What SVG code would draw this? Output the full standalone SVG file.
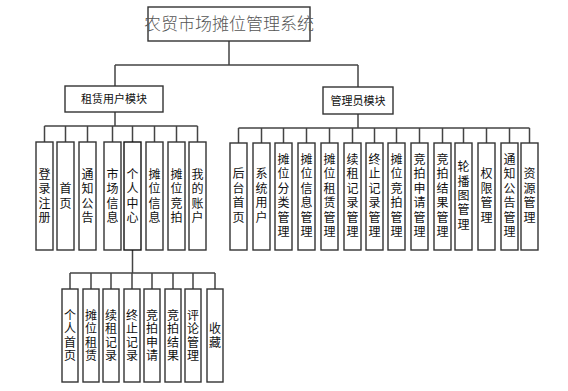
<svg xmlns="http://www.w3.org/2000/svg" width="568" height="391" viewBox="0 0 568 391">
<style>
.box{fill:#fff;stroke:#333;stroke-width:1.4}
.ln{stroke:#444;stroke-width:1.5;fill:none}
.t{font-family:"Noto Sans CJK SC","Noto Sans",sans-serif;font-size:12px;fill:#111;text-anchor:middle;writing-mode:vertical-rl;letter-spacing:2.4px}
.b{letter-spacing:1.3px}
.m{font-family:"Noto Sans CJK SC","Noto Sans",sans-serif;font-size:11px;fill:#111;text-anchor:middle}
.title{font-family:"Noto Sans CJK SC","Noto Sans",sans-serif;font-size:17px;fill:#555;text-anchor:middle;font-weight:300}
</style>
<rect width="568" height="391" fill="#fff"/>
<g id="connectors">
<path class="ln" d="M229 41V65M115 65H358M115 65V86M358 65V87"/>
<path class="ln" d="M115 112V126M44.5 126H197.5M44.5 126V142M65.5 126V142M87.5 126V142M112.5 126V142M132.5 126V142M154.5 126V142M176.5 126V142M197.5 126V142"/>
<path class="ln" d="M358 114V128M238.5 128H529.5M238.5 128V143M261.5 128V143M283.5 128V143M306.5 128V143M329.5 128V143M352.5 128V143M374.5 128V143M396.5 128V143M419.5 128V143M442.5 128V143M463.5 128V143M486.5 128V143M509.5 128V143M529.5 128V143"/>
<path class="ln" d="M132.5 250V273M70 273H215M70 273V289M91 273V289M111 273V289M132 273V289M152 273V289M173 273V289M193 273V289M215 273V289"/>
</g>
<g id="root"><rect class="box" x="148" y="7" width="162" height="34"/><text class="title" x="229" y="30">农贸市场摊位管理系统</text></g>
<g id="m-user"><rect class="box" x="65" y="86" width="98" height="26"/><text class="m" x="114" y="103">租赁用户模块</text></g>
<g id="m-admin"><rect class="box" x="323" y="87" width="70" height="27"/><text class="m" x="358" y="104.5">管理员模块</text></g>

<g id="u1"><rect class="box" x="36" y="142" width="17" height="108"/><text class="t" x="44.5" y="197.2">登录注册</text></g>
<g id="u2"><rect class="box" x="57" y="142" width="17" height="108"/><text class="t" x="65.5" y="197.2">首页</text></g>
<g id="u3"><rect class="box" x="79" y="142" width="17" height="108"/><text class="t" x="87.5" y="197.2">通知公告</text></g>
<g id="u4"><rect class="box" x="104" y="142" width="17" height="108"/><text class="t" x="112.5" y="197.2">市场信息</text></g>
<g id="u5"><rect class="box" x="124" y="142" width="17" height="108" style="stroke:#111"/><text class="t" x="132.5" y="197.2">个人中心</text></g>
<g id="u6"><rect class="box" x="146" y="142" width="17" height="108"/><text class="t" x="154.5" y="197.2">摊位信息</text></g>
<g id="u7"><rect class="box" x="168" y="142" width="17" height="108"/><text class="t" x="176.5" y="197.2">摊位竞拍</text></g>
<g id="u8"><rect class="box" x="189" y="142" width="17" height="108"/><text class="t" x="197.5" y="197.2">我的账户</text></g>

<g id="a1"><rect class="box" x="230" y="143" width="17" height="107"/><text class="t" x="238.5" y="196.7">后台首页</text></g>
<g id="a2"><rect class="box" x="253" y="143" width="17" height="107"/><text class="t" x="261.5" y="196.7">系统用户</text></g>
<g id="a3"><rect class="box" x="275" y="143" width="17" height="107"/><text class="t" x="283.5" y="196.7">摊位分类管理</text></g>
<g id="a4"><rect class="box" x="298" y="143" width="17" height="107"/><text class="t" x="306.5" y="196.7">摊位信息管理</text></g>
<g id="a5"><rect class="box" x="321" y="143" width="17" height="107"/><text class="t" x="329.5" y="196.7">摊位租赁管理</text></g>
<g id="a6"><rect class="box" x="344" y="143" width="17" height="107"/><text class="t" x="352.5" y="196.7">续租记录管理</text></g>
<g id="a7"><rect class="box" x="366" y="143" width="17" height="107"/><text class="t" x="374.5" y="196.7">终止记录管理</text></g>
<g id="a8"><rect class="box" x="388" y="143" width="17" height="107"/><text class="t" x="396.5" y="196.7">摊位竞拍管理</text></g>
<g id="a9"><rect class="box" x="411" y="143" width="17" height="107"/><text class="t" x="419.5" y="196.7">竞拍申请管理</text></g>
<g id="a10"><rect class="box" x="434" y="143" width="17" height="107"/><text class="t" x="442.5" y="196.7">竞拍结果管理</text></g>
<g id="a11"><rect class="box" x="455" y="143" width="17" height="107"/><text class="t" x="463.5" y="196.7">轮播图管理</text></g>
<g id="a12"><rect class="box" x="478" y="143" width="17" height="107"/><text class="t" x="486.5" y="196.7">权限管理</text></g>
<g id="a13"><rect class="box" x="501" y="143" width="17" height="107"/><text class="t" x="509.5" y="196.7">通知公告管理</text></g>
<g id="a14"><rect class="box" x="521" y="143" width="17" height="107"/><text class="t" x="529.5" y="196.7">资源管理</text></g>

<g id="p1"><rect class="box" x="62" y="289" width="16" height="93"/><text class="t b" x="70" y="336.2">个人首页</text></g>
<g id="p2"><rect class="box" x="83" y="289" width="16" height="93"/><text class="t b" x="91" y="336.2">摊位租赁</text></g>
<g id="p3"><rect class="box" x="103" y="289" width="16" height="93"/><text class="t b" x="111" y="336.2">续租记录</text></g>
<g id="p4"><rect class="box" x="124" y="289" width="16" height="93"/><text class="t b" x="132" y="336.2">终止记录</text></g>
<g id="p5"><rect class="box" x="144" y="289" width="16" height="93"/><text class="t b" x="152" y="336.2">竞拍申请</text></g>
<g id="p6"><rect class="box" x="165" y="289" width="16" height="93"/><text class="t b" x="173" y="336.2">竞拍结果</text></g>
<g id="p7"><rect class="box" x="185" y="289" width="16" height="93"/><text class="t b" x="193" y="336.2">评论管理</text></g>
<g id="p8"><rect class="box" x="207" y="289" width="16" height="93"/><text class="t b" x="215" y="336.2">收藏</text></g>
</svg>
